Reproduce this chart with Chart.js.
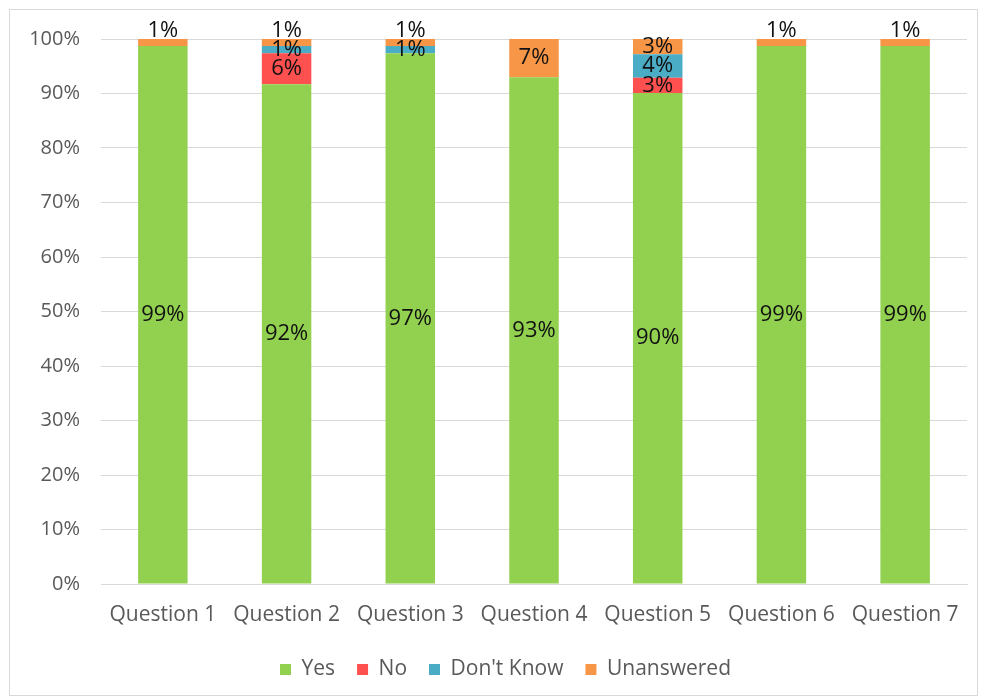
<!DOCTYPE html>
<html>
<head>
<meta charset="utf-8">
<script src="https://cdn.jsdelivr.net/npm/chart.js@4"></script>
<style>
  html, body { margin: 0; padding: 0; background: #fff; }
  #wrap { width: 982px; height: 699px; }
</style>
</head>
<body>
<div id="wrap"><canvas id="chart" width="982" height="699"></canvas></div>
<script>
const questions = ['Question 1', 'Question 2', 'Question 3', 'Question 4', 'Question 5', 'Question 6', 'Question 7'];
const yesValues = [98.7, 91.7, 97.4, 93.0, 90.1, 98.7, 98.7];
const noValues = [0, 5.7, 0, 0, 2.8, 0, 0];
const dontKnowValues = [0, 1.3, 1.3, 0, 4.3, 0, 0];
const unansweredValues = [1.3, 1.3, 1.3, 7.0, 2.8, 1.3, 1.3];

const fontFamily = '"Open Sans", "DejaVu Sans", sans-serif';

// frame round the whole chart
const framePlugin = {
  id: 'frame',
  beforeDraw(chart) {
    const ctx = chart.ctx;
    ctx.save();
    ctx.strokeStyle = '#d9d9d9';
    ctx.lineWidth = 1;
    ctx.strokeRect(9.5, 9.5, 968, 686);
    ctx.restore();
  },
  // legend in the original is centred under the plot area, not the canvas
  afterLayout(chart) {
    chart.legend.left += 22;
    chart.legend.right += 22;
  }
};

// percentage labels in the middle of each segment
const labelPlugin = {
  id: 'segLabels',
  afterDatasetsDraw(chart) {
    const ctx = chart.ctx;
    const last = chart.data.datasets.length - 1;
    ctx.save();
    ctx.font = '22px ' + fontFamily;
    ctx.fillStyle = '#111';
    ctx.textAlign = 'center';
    ctx.textBaseline = 'middle';
    chart.data.datasets.forEach((ds, i) => {
      chart.getDatasetMeta(i).data.forEach((bar, j) => {
        const v = ds.data[j];
        if (v < 0.5) return;
        let y = (bar.y + bar.base) / 2;
        if (i == last && v < 2) y = bar.y - 8;
        ctx.fillText(Math.round(v) + '%', bar.x, y);
      });
    });
    ctx.restore();
  }
};

new Chart(document.getElementById('chart'), {
  type: 'bar',
  data: {
    labels: questions,
    datasets: [
      { label: 'Yes', data: yesValues, backgroundColor: '#92d050' },
      { label: 'No', data: noValues, backgroundColor: '#ff5050' },
      { label: "Don't Know", data: dontKnowValues, backgroundColor: '#4bacc6' },
      { label: 'Unanswered', data: unansweredValues, backgroundColor: '#f79646' }
    ]
  },
  options: {
    responsive: false,
    animation: false,
    layout: { padding: { top: 39, right: 15, bottom: 9, left: 0 } },
    datasets: {
      bar: { categoryPercentage: 1, barPercentage: 0.4, borderWidth: 0 }
    },
    scales: {
      x: {
        stacked: true,
        grid: { display: false, drawTicks: false },
        border: { display: true, color: '#d9d9d9' },
        ticks: { color: '#595959', font: { family: fontFamily, size: 21 }, padding: 18, maxRotation: 0 },
        afterFit(scale) { scale.height = 53; }
      },
      y: {
        stacked: true,
        min: 0,
        max: 100,
        grid: { color: '#d9d9d9', drawTicks: false },
        border: { display: false },
        ticks: {
          stepSize: 10,
          color: '#595959',
          font: { family: fontFamily, size: 20 },
          padding: 21,
          callback: (v) => v + '%'
        },
        afterFit(scale) { scale.width = 101; }
      }
    },
    plugins: {
      legend: {
        position: 'bottom',
        labels: {
          boxWidth: 11,
          boxHeight: 11,
          padding: 22,
          color: '#595959',
          font: { family: fontFamily, size: 21 }
        }
      },
      tooltip: { enabled: false }
    }
  },
  plugins: [framePlugin, labelPlugin]
});
</script>
</body>
</html>
